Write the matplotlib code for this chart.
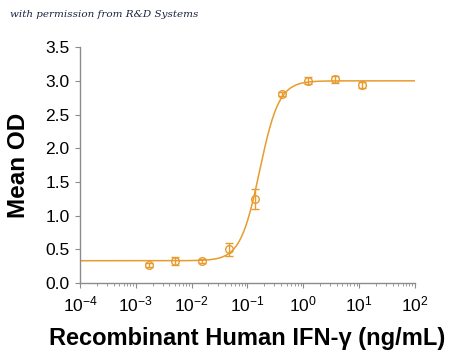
import numpy as np
import matplotlib
matplotlib.use("Agg")
import matplotlib.pyplot as plt
from matplotlib.ticker import LogLocator, NullFormatter, FixedLocator

# ---------------------------------------------------------------------------
# data
# ---------------------------------------------------------------------------
conc = [0.0017, 0.0051, 0.0152, 0.0457, 0.137, 0.41, 1.23, 3.7, 11.1]
od = [0.27, 0.33, 0.33, 0.50, 1.25, 2.80, 3.00, 3.02, 2.94]
od_err = [0.03, 0.06, 0.03, 0.10, 0.15, 0.03, 0.05, 0.05, 0.04]

# 4PL fit parameters
fit_bottom, fit_top, fit_ec50, fit_hill = 0.33, 3.00, 0.165, 2.5

orange = "#E89B2E"
grey = "#8C8C8C"

plt.rcParams["font.family"] = ["Liberation Sans", "DejaVu Sans"]

fig = plt.figure(figsize=(4.5, 3.6), dpi=100)
ax = fig.add_axes([0.178, 0.214, 0.744, 0.655])

xs = np.logspace(-4, 2, 400)
curve = fit_bottom + (fit_top - fit_bottom) / (1 + (fit_ec50 / xs) ** fit_hill)
ax.plot(xs, curve, color=orange, lw=1.1)
ax.errorbar(conc, od, yerr=od_err, fmt="o", ms=5.5, mfc="none", mec=orange,
            mew=1.0, ecolor=orange, elinewidth=1.0, capsize=3, capthick=1.0)

ax.set_xscale("log")
ax.set_xlim(1e-4, 1e2)
ax.set_ylim(0, 3.5)
ax.yaxis.set_major_locator(FixedLocator(np.arange(0, 3.51, 0.5)))
ax.set_yticklabels([f"{v:.1f}" for v in np.arange(0, 3.51, 0.5)])
ax.xaxis.set_major_locator(LogLocator(base=10, numticks=10))
ax.xaxis.set_minor_locator(LogLocator(base=10, subs=np.arange(2, 10), numticks=10))
ax.xaxis.set_minor_formatter(NullFormatter())

for s in ["top", "right"]:
    ax.spines[s].set_visible(False)
for s in ["left", "bottom"]:
    ax.spines[s].set_color(grey)
    ax.spines[s].set_linewidth(1.0)

ax.tick_params(axis="both", which="major", direction="out", length=3.5,
               color=grey, labelsize=12.5, pad=4)
ax.tick_params(axis="x", which="minor", direction="out", length=2, color=grey)
ax.tick_params(axis="x", pad=5)

ax.set_ylabel("Mean OD", fontsize=17.5, fontweight="bold", labelpad=11)
ax.set_xlabel("Recombinant Human IFN-γ (ng/mL)", fontsize=17, fontweight="bold",
              labelpad=9)

fig.text(0.022, 0.952, "with permission from R&D Systems", fontsize=7.5,
         style="italic", family="DejaVu Serif", color="#1a2540")

fig.savefig("out.png", dpi=100)
